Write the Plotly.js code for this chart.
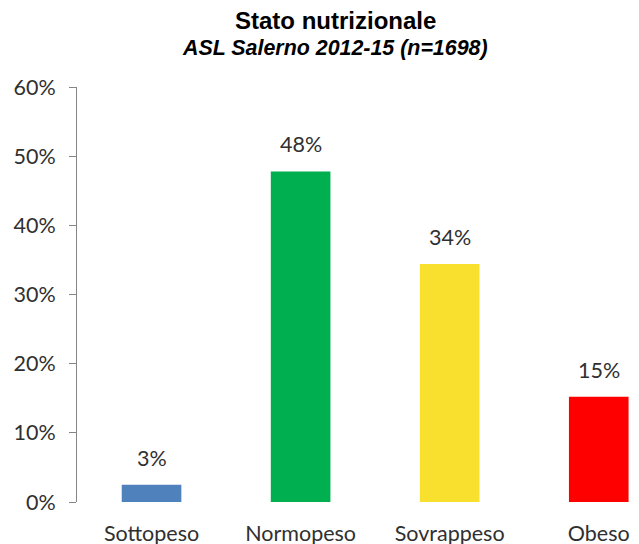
<!DOCTYPE html>
<html>
<head>
<meta charset="utf-8">
<script src="https://cdn.plot.ly/plotly-3.0.1.min.js"></script>
<style>
  html, body { margin: 0; padding: 0; background: #fff; }
  #plot { width: 639px; height: 544px; }
</style>
</head>
<body>
<div id="plot"></div>
<script>
// categories and values (percent)
var categories = ["Sottopeso", "Normopeso", "Sovrappeso", "Obeso"];
var values = [2.5, 47.8, 34.4, 15.2];
var valueLabels = ["3%", "48%", "34%", "15%"];
var barColors = ["#4F81BD", "#00B050", "#F9E02E", "#FF0000"];
var tickVals = [0, 10, 20, 30, 40, 50, 60];
var tickText = ["0%", "10%", "20%", "30%", "40%", "50%", "60%"];

var labelFont = { family: "Lato, 'Open Sans', sans-serif", size: 21.5, color: "#303030" };

var bars = {
  x: categories,
  y: values,
  type: "bar",
  width: 0.4,
  marker: { color: barColors },
  hoverinfo: "skip"
};

// value labels above each bar
var valueNotes = categories.map(function (c, i) {
  return {
    x: c, y: values[i], xref: "x", yref: "y",
    text: valueLabels[i], showarrow: false,
    yanchor: "bottom", yshift: 12,
    font: labelFont
  };
});

// title block, centred at x=335px of the page
var titleX = (335 - 77) / 562;
var titleNotes = [
  {
    xref: "paper", yref: "paper", x: titleX, xanchor: "center",
    y: 1, yanchor: "middle", yshift: 87 - 20.5,
    text: "<b>Stato nutrizionale</b>", showarrow: false,
    font: { family: "'Liberation Sans', Arial, sans-serif", size: 24, color: "#000" }
  },
  {
    xref: "paper", yref: "paper", x: titleX, xanchor: "center",
    y: 1, yanchor: "middle", yshift: 87 - 48,
    text: "<b><i>ASL Salerno 2012-15 (n=1698)</i></b>", showarrow: false,
    font: { family: "'Liberation Sans', Arial, sans-serif", size: 21.4, color: "#000" }
  }
];

var layout = {
  width: 639,
  height: 544,
  margin: { l: 77, r: 0, t: 87, b: 42 },
  paper_bgcolor: "#fff",
  plot_bgcolor: "#fff",
  showlegend: false,
  xaxis: {
    type: "category",
    range: [-0.5, 3.27],
    showline: false,
    ticks: "",
    showgrid: false,
    zeroline: false,
    tickfont: labelFont,
    ticklabelstandoff: 16
  },
  yaxis: {
    range: [0, 60],
    tickvals: tickVals,
    ticktext: tickText,
    showline: true,
    linecolor: "#868686",
    linewidth: 1,
    ticks: "outside",
    ticklen: 7,
    tickcolor: "#868686",
    showgrid: false,
    zeroline: false,
    tickfont: labelFont,
    ticklabelstandoff: 9
  },
  annotations: valueNotes.concat(titleNotes)
};

Plotly.newPlot("plot", [bars], layout, { displayModeBar: false, staticPlot: true });
</script>
</body>
</html>
